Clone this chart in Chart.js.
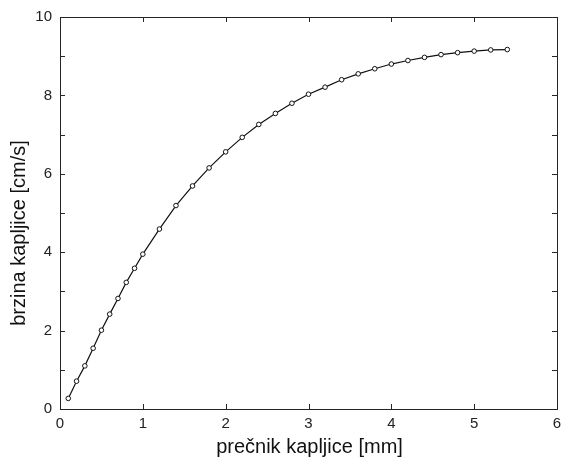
<!DOCTYPE html>
<html>
<head>
<meta charset="utf-8">
<script src="https://cdn.jsdelivr.net/npm/chart.js@4/dist/chart.umd.min.js"></script>
<style>
html,body{margin:0;padding:0;background:#fff;}
canvas{display:block;}
</style>
</head>
<body>
<canvas id="c" width="563" height="459"></canvas>
<script>
const diameters = [0.1,0.2,0.3,0.4,0.5,0.6,0.7,0.8,0.9,1.0,1.2,1.4,1.6,1.8,2.0,2.2,2.4,2.6,2.8,3.0,3.2,3.4,3.6,3.8,4.0,4.2,4.4,4.6,4.8,5.0,5.2,5.4];
const speeds = [0.27,0.71,1.10,1.55,2.01,2.42,2.82,3.23,3.59,3.95,4.59,5.19,5.69,6.15,6.56,6.93,7.26,7.54,7.80,8.03,8.21,8.40,8.55,8.68,8.80,8.89,8.97,9.04,9.09,9.13,9.16,9.17];
const xTitle = 'prečnik kapljice [mm]';
const yTitle = 'brzina kapljice [cm/s]';
const xTicks = [0,1,2,3,4,5,6];
const yTicks = [0,1,2,3,4,5,6,7,8,9,10];
const yLabelEvery = 2;

const FONT = '"Liberation Sans", Arial, sans-serif';
const INK = '#262626';

const framePlugin = {
  id: 'frame',
  afterDraw(chart) {
    const ctx = chart.ctx;
    const a = chart.chartArea;
    const xs = chart.scales.x, ys = chart.scales.y;
    const L = 5;
    ctx.save();
    ctx.strokeStyle = INK;
    ctx.lineWidth = 1;
    ctx.beginPath();
    xTicks.forEach(v => {
      const px = Math.round(xs.getPixelForValue(v)) + 0.5;
      ctx.moveTo(px, a.bottom); ctx.lineTo(px, a.bottom - L);
      ctx.moveTo(px, a.top); ctx.lineTo(px, a.top + L);
    });
    yTicks.forEach(v => {
      const py = Math.round(ys.getPixelForValue(v)) + 0.5;
      ctx.moveTo(a.left, py); ctx.lineTo(a.left + L, py);
      ctx.moveTo(a.right, py); ctx.lineTo(a.right - L, py);
    });
    ctx.stroke();
    ctx.strokeRect(Math.round(a.left) + 0.5, Math.round(a.top) + 0.5, Math.round(a.right - a.left), Math.round(a.bottom - a.top));
    // axis titles
    ctx.fillStyle = '#111';
    ctx.font = '20px ' + FONT;
    ctx.textAlign = 'center';
    ctx.textBaseline = 'middle';
    ctx.fillText(xTitle, (a.left + a.right) / 2 + 1, 447);
    ctx.translate(19, 233);
    ctx.rotate(-Math.PI / 2);
    ctx.fillText(yTitle, 0, 0);
    ctx.restore();
  }
};

new Chart(document.getElementById('c'), {
  type: 'scatter',
  data: {
    datasets: [{
      data: diameters.map((d, i) => ({x: d, y: speeds[i]})),
      showLine: true,
      borderColor: '#111',
      borderWidth: 1.2,
      tension: 0,
      pointRadius: 2.3,
      pointBorderWidth: 1,
      pointBackgroundColor: '#fff',
      pointBorderColor: '#111'
    }]
  },
  options: {
    responsive: false,
    animation: false,
    devicePixelRatio: 1,
    layout: {padding: {top: 17, right: 6, left: 0, bottom: 0}},
    plugins: {legend: {display: false}, tooltip: {enabled: false}},
    scales: {
      x: {
        type: 'linear', min: 0, max: 6,
        afterFit(s) { s.height = 50; s.paddingLeft = 0; s.paddingRight = 0; },
        afterBuildTicks(s) { s.ticks = xTicks.map(v => ({value: v})); },
        grid: {display: false, drawTicks: false},
        border: {display: false},
        ticks: {padding: 6, color: '#222', font: {family: FONT, size: 15}, autoSkip: false, maxRotation: 0}
      },
      y: {
        type: 'linear', min: 0, max: 10,
        afterFit(s) { s.width = 60; s.paddingTop = 0; s.paddingBottom = 0; },
        afterBuildTicks(s) { s.ticks = yTicks.map(v => ({value: v})); },
        grid: {display: false, drawTicks: false},
        border: {display: false},
        ticks: {padding: 8, color: '#222', font: {family: FONT, size: 15}, autoSkip: false,
          callback: v => (v % yLabelEvery === 0 ? String(v) : '')}
      }
    }
  },
  plugins: [framePlugin]
});
</script>
</body>
</html>
